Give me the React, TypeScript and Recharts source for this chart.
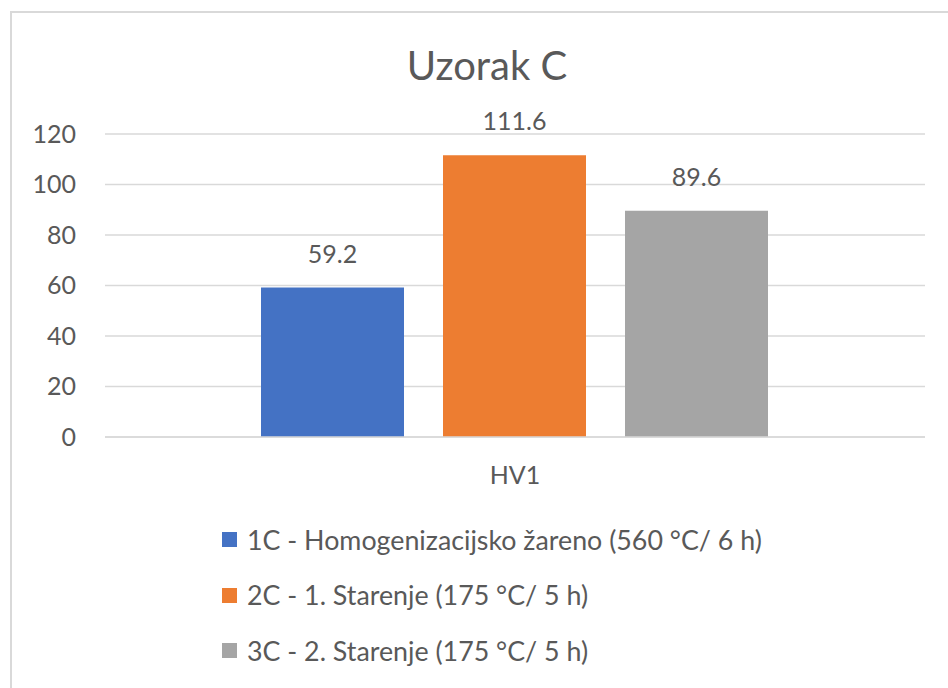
import React from 'react';
import { BarChart, Bar, XAxis, YAxis, CartesianGrid, Legend, LabelList } from 'recharts';

const categories = ['HV1'];
const series1C = [59.2];
const series2C = [111.6];
const series3C = [89.6];
const seriesNames = [
  '1C - Homogenizacijsko žareno (560 °C/ 6 h)',
  '2C - 1. Starenje (175 °C/ 5 h)',
  '3C - 2. Starenje (175 °C/ 5 h)',
];
const seriesColors = ['#4472C4', '#ED7D31', '#A5A5A5'];
const yTicks = [0, 20, 40, 60, 80, 100, 120];
const title = 'Uzorak C';

const data = categories.map((c, i) => ({
  name: c,
  s1: series1C[i],
  s2: series2C[i],
  s3: series3C[i],
}));

const FONT = 'Lato, "Open Sans", sans-serif';
const TEXT = '#595959';

const LegendContent = () => (
  <div style={{ fontFamily: FONT, color: TEXT, fontSize: 26.8 }}>
    {seriesNames.map((n, i) => (
      <div key={n} style={{ display: 'flex', alignItems: 'center', height: 55.5 }}>
        <div style={{ width: 15, height: 15, background: seriesColors[i], marginRight: 10, flexShrink: 0 }} />
        <span style={{ whiteSpace: 'nowrap' }}>{n}</span>
      </div>
    ))}
  </div>
);

export default function App() {
  return (
    <div style={{ position: 'absolute', left: 0, top: 0, width: 948, height: 688, background: '#fff', overflow: 'hidden' }}>
      <div
        style={{
          position: 'absolute',
          left: 10,
          top: 11,
          width: 938,
          height: 677,
          borderLeft: '2px solid #D9D9D9',
          borderTop: '2px solid #D9D9D9',
          boxSizing: 'border-box',
        }}
      />
      <div
        style={{
          position: 'absolute',
          left: 11,
          width: 952,
          top: 40,
          textAlign: 'center',
          fontFamily: FONT,
          fontSize: 40,
          color: TEXT,
          lineHeight: '50px',
        }}
      >
        {title}
      </div>
      <div style={{ position: 'absolute', left: 0, top: 0 }}>
        <BarChart
          width={948}
          height={688}
          data={data}
          margin={{ top: 134, right: 23, left: 0, bottom: 191 }}
          barCategoryGap={156}
          barGap={39}
        >
          <CartesianGrid vertical={false} stroke="#D9D9D9" strokeWidth={1.5} />
          <XAxis
            dataKey="name"
            height={60}
            tickSize={0}
            tickMargin={29}
            axisLine={{ stroke: '#D9D9D9', strokeWidth: 1.5 }}
            tickLine={false}
            tick={{ fill: TEXT, fontSize: 25, fontFamily: FONT }}
          />
          <YAxis
            width={105}
            domain={[0, 120]}
            ticks={yTicks}
            tickSize={0}
            tickMargin={29}
            axisLine={false}
            tickLine={false}
            tick={{ fill: TEXT, fontSize: 25, fontFamily: FONT }}
          />
          <Legend
            layout="vertical"
            verticalAlign="middle"
            align="center"
            wrapperStyle={{ left: 222, top: 512, width: 700 }}
            content={() => <LegendContent />}
          />
          {['s1', 's2', 's3'].map((k, i) => (
            <Bar key={k} dataKey={k} name={seriesNames[i]} fill={seriesColors[i]} isAnimationActive={false}>
              <LabelList
                dataKey={k}
                position="top"
                offset={25}
                fill={TEXT}
                fontSize={25}
                fontFamily={FONT}
              />
            </Bar>
          ))}
        </BarChart>
      </div>
    </div>
  );
}
